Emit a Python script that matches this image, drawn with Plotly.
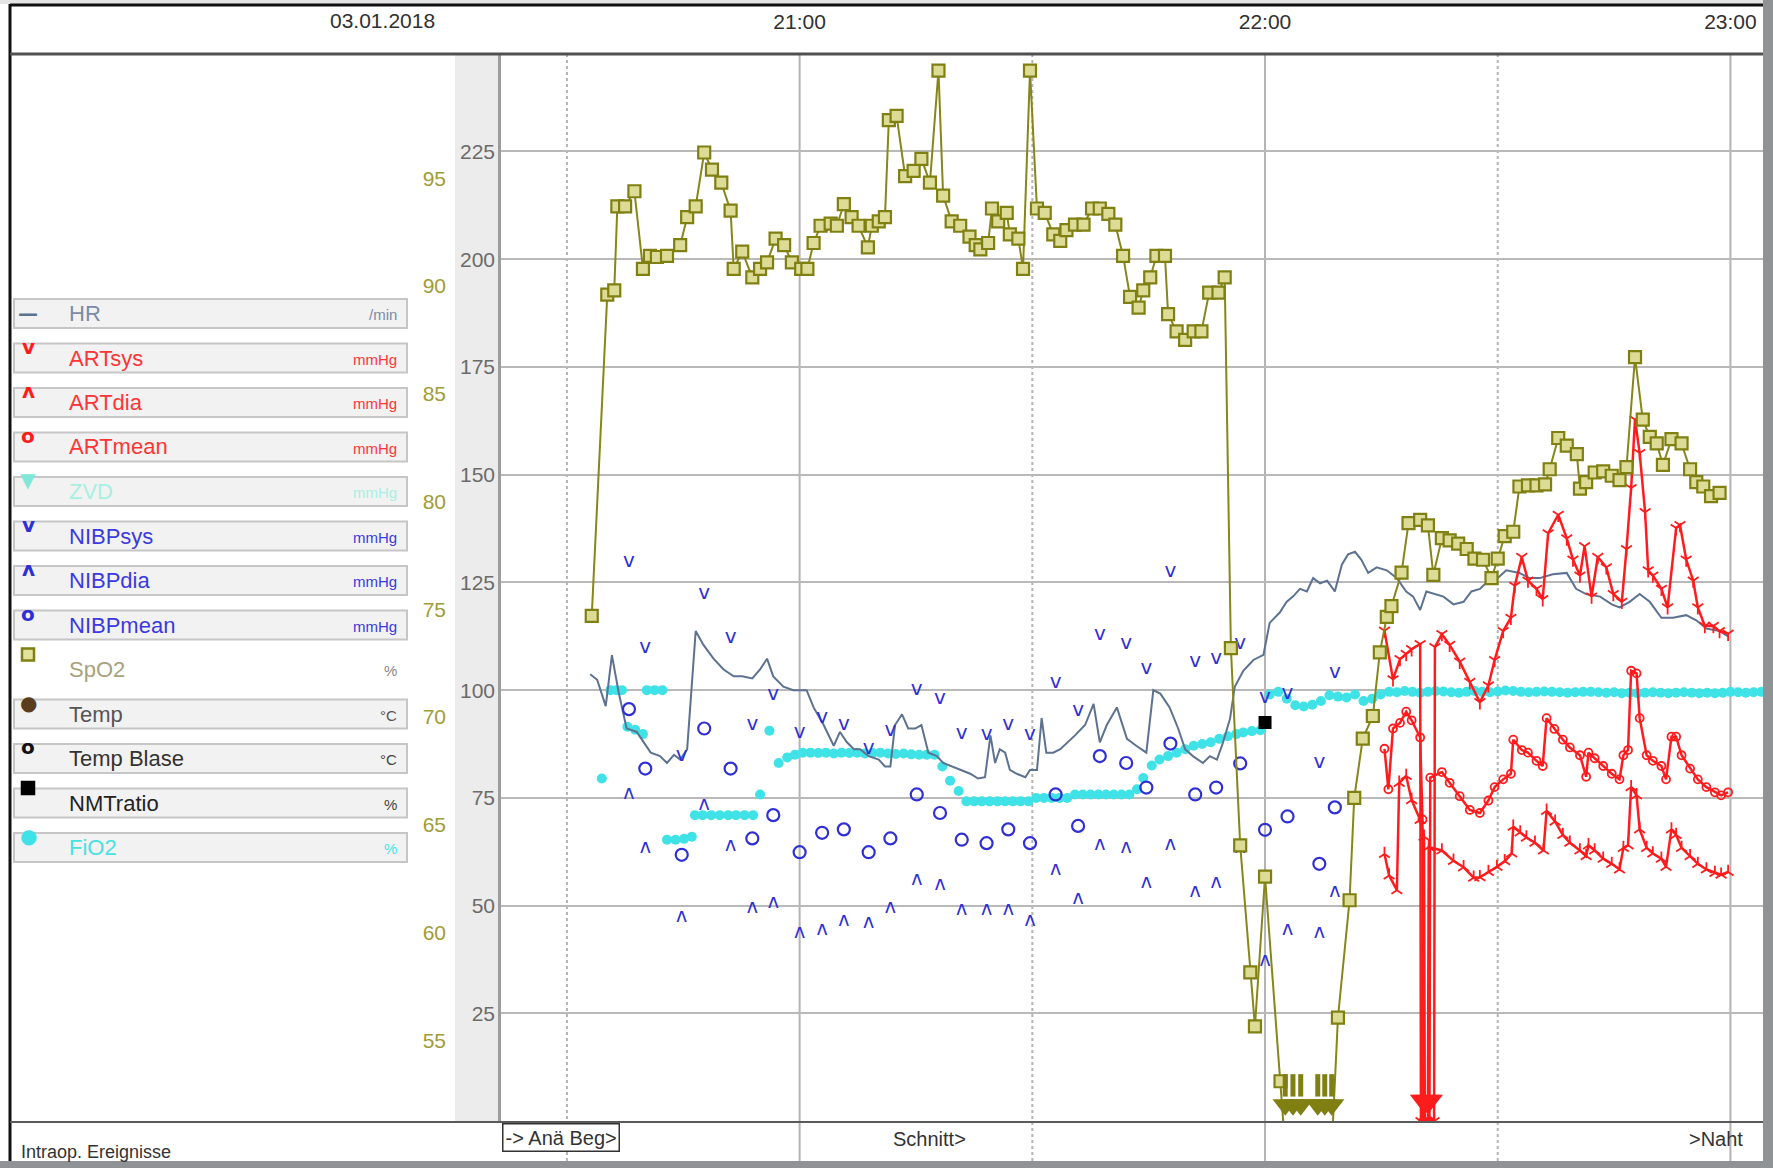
import pandas as pd
import plotly.graph_objects as go

BASE = pd.Timestamp("2018-01-03 21:00:00")

# ---------------- data (time = minutes relative to 21:00) ----------------
hr_min = [-27.0, -26.1, -25.0, -24.2, -23.3, -22.3, -21.0, -19.2, -18.0, -17.1, -16.2, -15.4, -14.5,
          -13.4, -12.4, -11.1, -9.8, -8.5, -7.4, -6.1, -5.1, -4.2, -3.4, -2.1, -0.8, 0.9, 1.8, 3.1,
          4.4, 5.2, 6.1, 7.0, 7.8, 8.9, 10.2, 11.0, 11.7, 12.3, 13.2, 14.0, 14.9, 15.7, 16.6, 17.7,
          18.5, 19.6, 20.7, 22.0, 23.0, 23.9, 24.6, 25.2, 25.8, 26.5, 27.1, 28.0, 29.1, 29.7, 30.6,
          31.2, 31.8, 32.7, 33.6, 34.6, 35.5, 36.8, 37.9, 38.7, 39.6, 40.9, 42.2, 43.4, 44.7, 45.6,
          46.5, 47.7, 48.8, 49.7, 50.7, 52.0, 52.9, 53.8, 54.6, 55.5, 56.1, 57.2, 58.5, 59.8, 60.6,
          61.9, 62.8, 63.6, 64.5, 65.4, 66.2, 67.1, 68.0, 69.0, 69.9, 70.7, 71.6, 72.4, 73.3, 74.4,
          75.7, 77.0, 78.2, 79.1, 80.0, 80.8, 81.9, 83.0, 84.3, 85.6, 86.6, 87.7, 88.8, 90.0, 91.1,
          92.8, 94.1, 95.4, 97.1, 98.9, 100.1, 101.4, 103.2, 104.7, 105.7, 107.0, 108.3, 109.6,
          111.1, 112.6, 114.3, 115.6, 116.9, 118.6, 119.7]
hr_val = [103.7, 102.4, 96.3, 108.1, 99.2, 91.1, 90.3, 85.5, 84.7, 83.1, 85.0, 83.9, 86.3,
          113.7, 110.5, 107.3, 104.8, 103.2, 103.2, 102.7, 104.8, 107.3, 103.2, 100.8, 100.0, 100.0,
          96.0, 91.9, 87.1, 90.3, 87.9, 86.3, 86.3, 84.7, 83.9, 82.3, 82.3, 91.9, 94.4, 91.1, 91.1,
          91.9, 85.5, 84.7, 83.1, 82.3, 81.5, 80.6, 79.5, 79.8, 89.5, 83.1, 86.3, 85.5, 81.5, 80.6,
          79.8, 81.5, 81.5, 93.5, 85.5, 85.5, 86.3, 87.9, 89.5, 91.9, 96.8, 87.9, 91.9, 96.0, 88.7,
          87.1, 85.5, 100.0, 99.2, 96.0, 91.1, 86.3, 84.7, 83.1, 84.7, 83.9, 87.9, 93.5, 100.8,
          104.5, 107.0, 108.2, 115.6, 118.0, 120.5, 121.7, 123.5, 122.9, 126.0, 124.8, 125.4, 122.9,
          129.1, 131.5, 132.1, 130.3, 127.2, 128.5, 127.8, 126.0, 122.9, 121.7, 118.6, 122.9, 122.3,
          121.7, 119.9, 120.5, 122.9, 123.5, 125.4, 126.0, 127.8, 127.2, 126.0, 126.0, 126.9, 127.2,
          123.5, 122.3, 121.7, 119.9, 119.2, 120.5, 122.3, 120.5, 116.8, 116.8, 117.4, 116.2, 114.3,
          113.7, 112.5]

spo2_min = [-26.8, -24.8, -23.9, -23.5, -22.5, -21.3, -20.2, -19.3, -18.4, -17.1, -15.4, -14.5,
            -13.4, -12.3, -11.3, -10.1, -8.9, -8.5, -7.4, -6.1, -5.1, -4.2, -3.1, -2.0, -1.0, 0.2,
            1.0, 1.8, 2.7, 4.0, 4.8, 5.7, 6.7, 7.6, 8.8, 9.3, 10.2, 11.0, 11.5, 12.5, 13.6, 14.7,
            15.7, 16.8, 17.9, 18.5, 19.6, 20.7, 21.9, 22.7, 23.3, 24.3, 24.8, 25.6, 26.7, 27.1, 28.2,
            28.8, 29.7, 30.6, 31.6, 32.7, 33.6, 34.4, 35.5, 36.6, 37.7, 38.7, 39.8, 40.7, 41.7, 42.6,
            43.7, 44.3, 45.2, 46.0, 47.1, 47.5, 48.6, 49.7, 50.8, 51.8, 52.8, 54.0, 54.8, 55.6, 56.8,
            58.1, 58.7, 60.0, 62.0, 62.6, 63.6, 64.6, 66.8, 67.7, 68.6, 69.4, 70.9, 71.5, 72.6,
            73.9, 74.8, 75.7, 76.3, 77.6, 78.5, 80.0, 81.0, 81.7, 82.8, 83.8, 84.9, 86.0, 87.0, 88.1,
            89.2, 90.0, 90.9, 92.0, 92.8, 93.9, 95.0, 96.1, 96.7, 97.8, 98.9, 100.2, 100.6, 101.4,
            102.5, 103.6, 104.7, 105.7, 106.6, 107.7, 108.7, 109.6, 110.5, 111.3, 112.4, 113.7,
            114.8, 115.6, 116.5, 117.5, 118.6]
spo2_val = [74.7, 89.6, 89.8, 93.7, 93.7, 94.4, 90.8, 91.4, 91.35, 91.4, 91.9, 93.2, 93.7, 96.2,
            95.4, 94.8, 93.5, 90.8, 91.6, 90.4, 90.8, 91.1, 92.2, 91.9, 91.1, 90.8, 90.8, 92.0, 92.8,
            92.9, 92.8, 93.8, 93.2, 92.8, 91.8, 92.8, 93.0, 93.2, 97.7, 97.9, 95.1, 95.35, 95.9, 94.8,
            100.0, 94.2, 93.0, 92.8, 92.3, 91.9, 91.7, 92.0, 93.6, 93.0, 93.4, 92.4, 92.2, 90.8,
            100.0, 93.6, 93.4, 92.4, 92.1, 92.6, 92.85, 92.85, 93.6, 93.6, 93.35, 92.85, 91.4, 89.5,
            89.0, 89.8, 90.4, 91.4, 91.4, 88.7, 87.9, 87.5, 87.9, 87.9, 89.7, 89.7, 90.4, 73.2, 64.05,
            58.15, 55.65, 62.6, 53.1, 50.0, 50.0, 50.0, 50.0, 50.0, 50.0, 56.05, 61.5, 66.25,
            69.0, 70.05, 73.0, 74.65, 75.15, 76.7, 79.0, 79.15, 78.9, 76.6, 78.3, 78.2, 78.05, 77.8,
            77.35, 77.3, 76.45, 77.35, 78.4, 78.6, 80.7, 80.75, 80.75, 80.8, 81.5, 82.95, 82.6, 82.2,
            80.6, 80.9, 81.35, 81.4, 81.2, 81.0, 81.6, 86.7, 83.8, 83.0, 82.7, 81.7, 82.9, 82.7, 81.5,
            80.9, 80.7, 80.25, 80.4]

fio2_min = [-25.5, -24.4, -23.6, -22.9, -22.2, -21.2, -20.2, -19.7, -18.7, -17.7, -17.1, -16.0,
            -14.9, -13.9, -13.5, -12.5, -11.4, -10.3, -9.2, -8.2, -7.1, -6.0, -5.1, -3.9, -2.7, -1.6,
            -0.6, 0.4, 1.4, 2.4, 3.4, 4.4, 5.4, 6.4, 7.4, 8.4, 9.4, 10.4, 11.4, 12.4, 13.4, 14.4,
            15.4, 16.4, 17.4, 18.4, 19.4, 20.5, 21.5, 22.5, 23.5, 24.5, 25.5, 26.5, 27.5, 28.5, 29.5,
            30.5, 31.5, 32.5, 33.5, 34.5, 35.5, 36.5, 37.5, 38.5, 39.5, 40.5, 41.5, 42.5, 43.5, 44.3,
            45.4, 46.4, 47.5, 48.6, 49.7, 50.8, 51.9, 53.0, 54.1, 55.2, 56.3, 57.2, 58.3, 59.4, 60.6,
            61.7, 62.8, 63.9, 65.0, 66.1, 67.2, 68.3, 69.4, 70.5, 71.6, 72.7, 73.8, 74.9, 76.0, 77.0,
            78.0, 79.0, 80.0, 81.0, 82.0, 83.0, 84.0, 85.0, 86.0, 87.0, 88.0, 89.0, 90.0, 91.0, 92.0,
            93.0, 94.0, 95.0, 96.0, 97.0, 98.0, 99.0, 100.0, 101.0, 102.0, 103.0, 104.0, 105.0,
            106.0, 107.0, 108.0, 109.0, 110.0, 111.0, 112.0, 113.0, 114.0, 115.0, 116.0, 117.0,
            118.0, 119.0, 120.0, 121.0, 122.0, 123.0, 124.0]
fio2_val = [79.5, 100.0, 100.0, 100.0, 91.5, 90.8, 89.8, 100.0, 100.0, 100.0, 65.3, 65.3, 65.5,
            66.0, 71.0, 71.0, 71.0, 71.0, 71.0, 71.0, 71.0, 71.0, 75.8, 90.6, 83.1, 84.4, 85.0, 85.5,
            85.5, 85.4, 85.5, 85.3, 85.5, 85.4, 85.5, 85.3, 85.4, 85.5, 85.3, 85.2, 85.3, 85.1, 85.0,
            85.0, 85.0, 82.3, 79.0, 76.6, 74.2, 74.2, 74.2, 74.2, 74.2, 74.2, 74.2, 74.2, 74.2, 75.0,
            75.0, 75.0, 75.0, 75.0, 75.8, 75.8, 75.8, 75.8, 75.8, 75.8, 75.8, 75.8, 77.0, 79.6, 82.5,
            83.9, 84.7, 85.5, 86.3, 87.1, 87.5, 87.9, 88.7, 89.3, 89.8, 90.2, 90.5, 90.7, 99.0, 99.6,
            98.0, 96.5, 96.2, 96.6, 97.5, 98.8, 98.5, 98.3, 99.0, 97.5, 98.0, 99.0, 99.6, 99.5, 99.8,
            99.6, 99.4, 99.6, 99.8, 99.7, 99.5, 99.4, 99.6, 99.8, 99.6, 99.5, 99.7, 99.9, 99.8, 99.6,
            99.5, 99.6, 99.7, 99.6, 99.5, 99.4, 99.5, 99.6, 99.6, 99.5, 99.4, 99.5, 99.3, 99.4, 99.3,
            99.4, 99.5, 99.4, 99.3, 99.4, 99.5, 99.4, 99.3, 99.4, 99.3, 99.4, 99.6, 99.5, 99.4, 99.5,
            99.6]

nibp_min = [-22.0, -19.9, -15.2, -12.3, -8.9, -6.1, -3.4, 0.0, 2.9, 5.7, 8.9, 11.7, 15.1, 18.1,
            20.9, 24.1, 26.9, 29.7, 33.0, 35.9, 38.7, 42.1, 44.7, 47.8, 51.0, 53.7, 56.8, 60.0,
            62.9, 67.0, 69.0]
nibp_sys = [129.8, 109.7, 84.7, 122.3, 112.1, 91.9, 98.9, 90.0, 93.5, 91.9, 86.3, 90.6, 100.0,
            97.9, 89.8, 89.5, 91.9, 89.5, 101.6, 95.2, 112.9, 110.8, 104.8, 127.4, 106.5, 107.3,
            110.6, 98.1, 99.0, 83.0, 103.9]
nibp_dia = [75.8, 63.4, 47.3, 73.4, 63.7, 49.5, 50.5, 43.5, 44.4, 46.3, 46.0, 49.5, 56.0, 54.8,
            48.9, 48.9, 48.9, 46.3, 58.1, 51.6, 64.0, 63.4, 55.3, 64.0, 53.2, 55.3, 63.4, 37.0, 44.3,
            43.7, 53.2]
nibp_mean = [95.6, 81.8, 61.8, 91.1, 81.8, 65.6, 71.0, 62.4, 66.9, 67.7, 62.4, 65.6, 75.8, 71.5,
             65.3, 64.5, 67.7, 64.5, 75.8, 68.5, 84.7, 83.1, 77.4, 87.6, 75.8, 77.4, 83.0, 67.6,
             70.7, 59.7, 72.8]

artsys_min = [75.4, 76.5, 77.4, 78.2, 78.9, 80.0, 80.1, 81.8, 81.9, 82.8, 83.8, 85.1, 86.4, 87.7,
              88.8, 89.6, 90.7, 91.7, 92.2, 93.1, 93.9, 95.0, 95.8, 96.5, 97.8, 98.9, 99.7, 100.6,
              101.2, 102.1, 102.9, 104.0, 104.9, 106.0, 106.6, 107.2, 107.7, 108.3, 109.0, 109.4,
              110.0, 111.1, 111.9, 113.0, 113.5, 114.3, 115.2, 115.8, 116.7, 117.8, 118.6, 119.7]
artsys_val = [113.8, 102.5, 107.2, 108.4, 109.5, 110.7, 0.0, 0.0, 110.0, 113.0, 110.5, 106.6,
              101.9, 97.2, 101.1, 107.0, 113.7, 116.8, 124.2, 130.9, 125.4, 123.5, 121.1, 136.4,
              140.7, 135.2, 130.3, 126.6, 133.4, 121.7, 130.9, 128.5, 122.3, 120.5, 132.7, 146.9,
              162.8, 155.0, 141.3, 127.8, 126.6, 123.5, 119.2, 137.6, 138.3, 130.3, 125.4, 119.2,
              114.9, 114.9, 113.7, 113.1]

artmean_min = [75.4, 75.9, 76.5, 77.4, 78.2, 78.9, 80.0, 80.3, 80.4, 81.2, 81.3, 82.8, 83.8, 85.1,
               86.4, 87.7, 88.8, 89.6, 90.7, 91.7, 92.0, 93.1, 93.9, 95.0, 95.8, 96.3, 97.3, 98.4,
               99.3, 100.6, 101.4, 101.7, 102.5, 103.6, 104.7, 105.7, 106.2, 106.8, 107.2, 107.9,
               108.3, 109.2, 110.0, 111.1, 111.7, 112.4, 113.0, 113.7, 114.8, 115.8, 116.9, 118.0,
               118.8, 119.7]
artmean_val = [86.4, 77.0, 91.1, 92.4, 95.0, 93.0, 89.0, 70.0, 0.0, 0.0, 79.7, 81.0, 78.5, 75.4,
               72.2, 71.5, 74.4, 77.5, 79.3, 80.6, 88.5, 86.1, 85.5, 83.6, 82.4, 93.5, 91.0, 88.5,
               86.7, 84.9, 79.9, 85.5, 84.2, 82.4, 80.6, 79.3, 84.9, 86.1, 104.5, 103.9, 93.5, 84.9,
               83.6, 82.4, 79.3, 89.2, 89.2, 84.9, 81.8, 79.3, 77.5, 76.3, 75.6, 76.3]

artdia_min = [75.4, 76.0, 77.0, 77.3, 78.2, 78.9, 80.0, 80.5, 80.6, 81.0, 81.1, 82.8, 84.3, 85.6,
              86.9, 87.7, 88.8, 89.9, 90.9, 91.8, 92.0, 92.9, 93.7, 94.8, 95.9, 96.3, 97.4, 98.4,
              99.3, 100.6, 101.4, 101.7, 102.5, 103.6, 104.7, 105.7, 106.2, 106.8, 107.2, 107.9,
              108.3, 109.2, 110.0, 111.1, 111.7, 112.4, 113.0, 113.7, 114.8, 115.8, 116.9, 118.0,
              118.8, 119.7]
artdia_val = [62.0, 57.0, 53.6, 78.5, 80.1, 74.5, 69.9, 66.0, 0.0, 0.0, 63.6, 62.8, 60.4, 58.9,
              56.5, 56.6, 57.8, 59.0, 60.3, 62.1, 68.3, 67.0, 65.8, 64.6, 62.8, 72.0, 69.5, 66.4,
              64.6, 62.8, 61.5, 64.0, 62.8, 60.9, 59.7, 58.4, 63.4, 64.0, 77.5, 75.6, 67.7, 63.4,
              62.1, 60.9, 59.0, 67.7, 66.4, 63.4, 61.5, 59.7, 58.4, 57.6, 57.2, 57.8]

nmt_min = [60.0]
nmt_val = [92.5]

y_ticks = [25, 50, 75, 100, 125, 150, 175, 200, 225]
spo2_ticks = [55, 60, 65, 70, 75, 80, 85, 90, 95]
time_ticks = ["21:00", "22:00", "23:00"]
half_hours = ["20:30", "21:30", "22:30"]

legend_names = ["HR", "ARTsys", "ARTdia", "ARTmean", "ZVD", "NIBPsys", "NIBPdia", "NIBPmean",
                "SpO2", "Temp", "Temp Blase", "NMTratio", "FiO2"]
legend_units = ["/min", "mmHg", "mmHg", "mmHg", "mmHg", "mmHg", "mmHg", "mmHg", "%", "°C", "°C",
                "%", "%"]
events = [("Schnitt>", 16.8), (">Naht", 118.2)]

# ---------------- layout geometry ----------------
W, H = 1773, 1168
ML, MR, MT, MB = 501, 10, 54, 46
PW, PH = W - ML - MR, H - MT - MB
Y_RANGE = [-0.2, 247.6]
SPO2_RANGE = [Y_RANGE[0] / 5 + 51.25, Y_RANGE[1] / 5 + 51.25]
X_RANGE = [BASE + pd.Timedelta(minutes=-38.5), BASE + pd.Timedelta(minutes=124.2)]


def T(mins):
    return [BASE + pd.Timedelta(minutes=m) for m in mins]


def clock(hhmm):
    return pd.Timestamp("2018-01-03 " + hhmm + ":00")


def px(x):
    return (x - ML) / PW


def py(y):
    return (H - MB - y) / PH


FONT = "Liberation Sans, Arial, sans-serif"
RED = "#ff1c1c"
BLUE = "#2f2fd4"
OLIVE = "#7f7f12"
CYAN = "#3fe2e6"
SLATE = "#5d7290"

fig = go.Figure()

fig.add_trace(go.Scatter(x=T(fio2_min), y=fio2_val, mode="markers",
                         marker=dict(color=CYAN, size=10), hoverinfo="skip"))
fig.add_trace(go.Scatter(x=T(hr_min), y=hr_val, mode="lines",
                         line=dict(color=SLATE, width=2), hoverinfo="skip"))
fig.add_trace(go.Scatter(x=T(nibp_min), y=nibp_sys, mode="text", text=["v"] * len(nibp_sys),
                         textfont=dict(family="DejaVu Sans", size=20, color=BLUE)))
fig.add_trace(go.Scatter(x=T(nibp_min), y=nibp_dia, mode="text", text=["ʌ"] * len(nibp_dia),
                         textfont=dict(family="DejaVu Sans", size=19, color=BLUE)))
fig.add_trace(go.Scatter(x=T(nibp_min), y=nibp_mean, mode="markers",
                         marker=dict(symbol="circle-open", size=12, color=BLUE,
                                     line=dict(width=2.2, color=BLUE))))
for mins, vals, sym, sz in [(artsys_min, artsys_val, "y-down", 9),
                            (artmean_min, artmean_val, "circle-open", 8),
                            (artdia_min, artdia_val, "y-up", 9)]:
    fig.add_trace(go.Scatter(x=T(mins), y=vals, mode="lines+markers",
                             line=dict(color=RED, width=2.5),
                             marker=dict(symbol=sym, size=sz, color=RED,
                                         line=dict(width=1.8, color=RED))))
# offscale-low indicator for the arterial line
art_off = [m for m, v in zip(artdia_min, artdia_val) if v <= 0]
fig.add_trace(go.Scatter(x=T(art_off), y=[Y_RANGE[0] + 4.8] * len(art_off), mode="markers",
                         marker=dict(symbol="triangle-down", size=26, color=RED)))
fig.add_trace(go.Scatter(x=T(nmt_min), y=nmt_val, mode="markers",
                         marker=dict(symbol="square", size=13, color="#000000")))
# SpO2 on its own scale
fig.add_trace(go.Scatter(x=T(spo2_min), y=spo2_val, yaxis="y2", mode="lines+markers",
                         line=dict(color="#86861a", width=2),
                         marker=dict(symbol="square", size=12, color="#dcdc96",
                                     line=dict(width=2.2, color=OLIVE))))
spo2_off = [m for m, v in zip(spo2_min, spo2_val) if v < SPO2_RANGE[0]]
fig.add_trace(go.Scatter(x=T(spo2_off), y=[SPO2_RANGE[0] + 0.8] * len(spo2_off), yaxis="y2",
                         mode="markers",
                         marker=dict(symbol="triangle-down", size=22, color=OLIVE)))
fig.add_trace(go.Scatter(x=T(spo2_off), y=[SPO2_RANGE[0] + 1.7] * len(spo2_off), yaxis="y2",
                         mode="markers",
                         marker=dict(symbol="line-ns", size=16, color=OLIVE,
                                     line=dict(width=5, color=OLIVE))))

shapes = []
# grey screenshot strips and frame
shapes.append(dict(type="rect", xref="paper", yref="paper", x0=px(1763), x1=px(W + 2),
                   y0=py(H + 2), y1=py(-2), fillcolor="#8f9395", line=dict(width=0), layer="above"))
shapes.append(dict(type="rect", xref="paper", yref="paper", x0=px(-2), x1=px(W + 2),
                   y0=py(H + 2), y1=py(1161), fillcolor="#8f9395", line=dict(width=0), layer="above"))
shapes.append(dict(type="rect", xref="paper", yref="paper", x0=px(-2), x1=px(1763),
                   y0=py(4), y1=py(-2), fillcolor="#e4e4e4", line=dict(width=0), layer="below"))
shapes.append(dict(type="line", xref="paper", yref="paper", x0=px(10), x1=px(10),
                   y0=py(1161), y1=py(4), line=dict(color="#111111", width=3), layer="above"))
shapes.append(dict(type="line", xref="paper", yref="paper", x0=px(10), x1=px(1763),
                   y0=py(5), y1=py(5), line=dict(color="#111111", width=3), layer="above"))
# y axis band
shapes.append(dict(type="rect", xref="paper", yref="paper", x0=px(455), x1=0, y0=0, y1=1,
                   fillcolor="#ececec", line=dict(width=0), layer="below"))
# vertical time grid (extends into the event row)
for hh in time_ticks:
    shapes.append(dict(type="line", xref="x", yref="paper", x0=clock(hh), x1=clock(hh),
                       y0=py(1161), y1=1, line=dict(color="#b3b3b3", width=2), layer="below"))
for hh in half_hours:
    shapes.append(dict(type="line", xref="x", yref="paper", x0=clock(hh), x1=clock(hh),
                       y0=py(1161), y1=1, line=dict(color="#b3b3b3", width=2, dash="dot"),
                       layer="below"))
shapes.append(dict(type="line", xref="paper", yref="paper", x0=px(499.5), x1=px(499.5), y0=0, y1=1,
                   line=dict(color="#9c9c9c", width=3), layer="above"))
shapes.append(dict(type="line", xref="paper", yref="paper", x0=px(10), x1=px(1763), y0=1, y1=1,
                   line=dict(color="#505050", width=3), layer="above"))
shapes.append(dict(type="line", xref="paper", yref="paper", x0=px(10), x1=px(1763), y0=0, y1=0,
                   line=dict(color="#5a5a5a", width=2), layer="above"))

annotations = []
annotations.append(dict(xref="paper", yref="paper", x=px(382), y=py(21), text="03.01.2018",
                        showarrow=False, xanchor="center", yanchor="middle",
                        font=dict(family=FONT, size=21, color="#303030")))

# legend block
label_colors = ["#7b8ba6", "#ff3535", "#ff3535", "#ff3535", "#a6f0e2", "#3a3ae0", "#3a3ae0",
                "#3a3ae0", "#a5a27c", "#555555", "#333333", "#222222", "#45e2e2"]
unit_colors = ["#7b8ba6", "#ff3535", "#ff3535", "#ff3535", "#a6f0e2", "#3a3ae0", "#3a3ae0",
               "#3a3ae0", "#888888", "#555555", "#444444", "#444444", "#45e2e2"]
glyphs = ["—", "v", "ʌ", "o", "▼", "v", "ʌ", "o", None, "●", "o", None, "●"]
glyph_colors = [SLATE, RED, RED, RED, "#7fe8d8", BLUE, BLUE, BLUE, OLIVE, "#5a3c1e", "#111111",
                "#000000", CYAN]
for i, name in enumerate(legend_names):
    cy = 313.5 + 44.5 * i
    if name != "SpO2":
        shapes.append(dict(type="rect", xref="paper", yref="paper", x0=px(14), x1=px(407),
                           y0=py(cy + 14.5), y1=py(cy - 14.5), fillcolor="#f2f2f2",
                           line=dict(color="#c6c6c6", width=2), layer="below"))
    annotations.append(dict(xref="paper", yref="paper", x=px(67), y=py(cy), text=name,
                            showarrow=False, xanchor="left", yanchor="middle",
                            font=dict(family=FONT, size=22, color=label_colors[i])))
    annotations.append(dict(xref="paper", yref="paper", x=px(399), y=py(cy + 1),
                            text=legend_units[i], showarrow=False, xanchor="right",
                            yanchor="middle", font=dict(family=FONT, size=15, color=unit_colors[i])))
    gy = cy - 1 if i == 0 else cy - 14.5 + 3
    if glyphs[i] is not None:
        annotations.append(dict(xref="paper", yref="paper", x=px(28), y=py(gy), text=glyphs[i],
                                showarrow=False, xanchor="center", yanchor="middle",
                                font=dict(family="DejaVu Sans", size=20, color=glyph_colors[i],
                                          weight="bold")))
    else:
        fill = "#e2e29c" if name == "SpO2" else "#000000"
        shapes.append(dict(type="rect", xref="paper", yref="paper", x0=px(22), x1=px(34),
                           y0=py(cy - 9), y1=py(cy - 21), fillcolor=fill,
                           line=dict(color=glyph_colors[i], width=2.5), layer="above"))

# event row
annotations.append(dict(xref="paper", yref="paper", x=px(19), y=py(1152),
                        text="Intraop. Ereignisse", showarrow=False, xanchor="left",
                        yanchor="middle", font=dict(family=FONT, size=18, color="#333333")))
annotations.append(dict(xref="paper", yref="paper", x=px(502), y=py(1137), text="-> Anä Beg>",
                        showarrow=False, xanchor="left", yanchor="middle", bgcolor="#ffffff",
                        bordercolor="#333333", borderwidth=1.5, borderpad=2,
                        font=dict(family=FONT, size=20, color="#333333")))
for txt, m in events:
    annotations.append(dict(xref="x", yref="paper", x=BASE + pd.Timedelta(minutes=m), y=py(1139),
                            text=txt, showarrow=False, xanchor="center", yanchor="middle",
                            font=dict(family=FONT, size=20, color="#333333")))

fig.update_layout(
    width=W, height=H,
    margin=dict(l=ML, r=MR, t=MT, b=MB),
    paper_bgcolor="#ffffff", plot_bgcolor="#ffffff",
    showlegend=False,
    font=dict(family=FONT),
    xaxis=dict(type="date", range=X_RANGE, side="top", showgrid=False, zeroline=False,
               showline=False, ticks="", tickmode="array",
               tickvals=[clock(h) for h in time_ticks], ticktext=time_ticks,
               tickfont=dict(family=FONT, size=21, color="#303030"), ticklabelstandoff=20),
    yaxis=dict(range=Y_RANGE, tickmode="array", tickvals=y_ticks, showgrid=True,
               gridcolor="#b9b9b9", gridwidth=2, zeroline=False, showline=False, ticks="",
               tickfont=dict(family=FONT, size=21, color="#6b6b6b"), ticklabelstandoff=5),
    yaxis2=dict(range=SPO2_RANGE, overlaying="y", side="left", tickmode="array",
                tickvals=spo2_ticks, showgrid=False, zeroline=False, showline=False, ticks="",
                tickfont=dict(family=FONT, size=21, color="#a09c38"), ticklabelstandoff=54),
    shapes=shapes,
    annotations=annotations,
)

fig.write_html("out.html", config={"displayModeBar": False},
               post_script="document.body.style.margin='0px';document.body.style.overflow='hidden';")
